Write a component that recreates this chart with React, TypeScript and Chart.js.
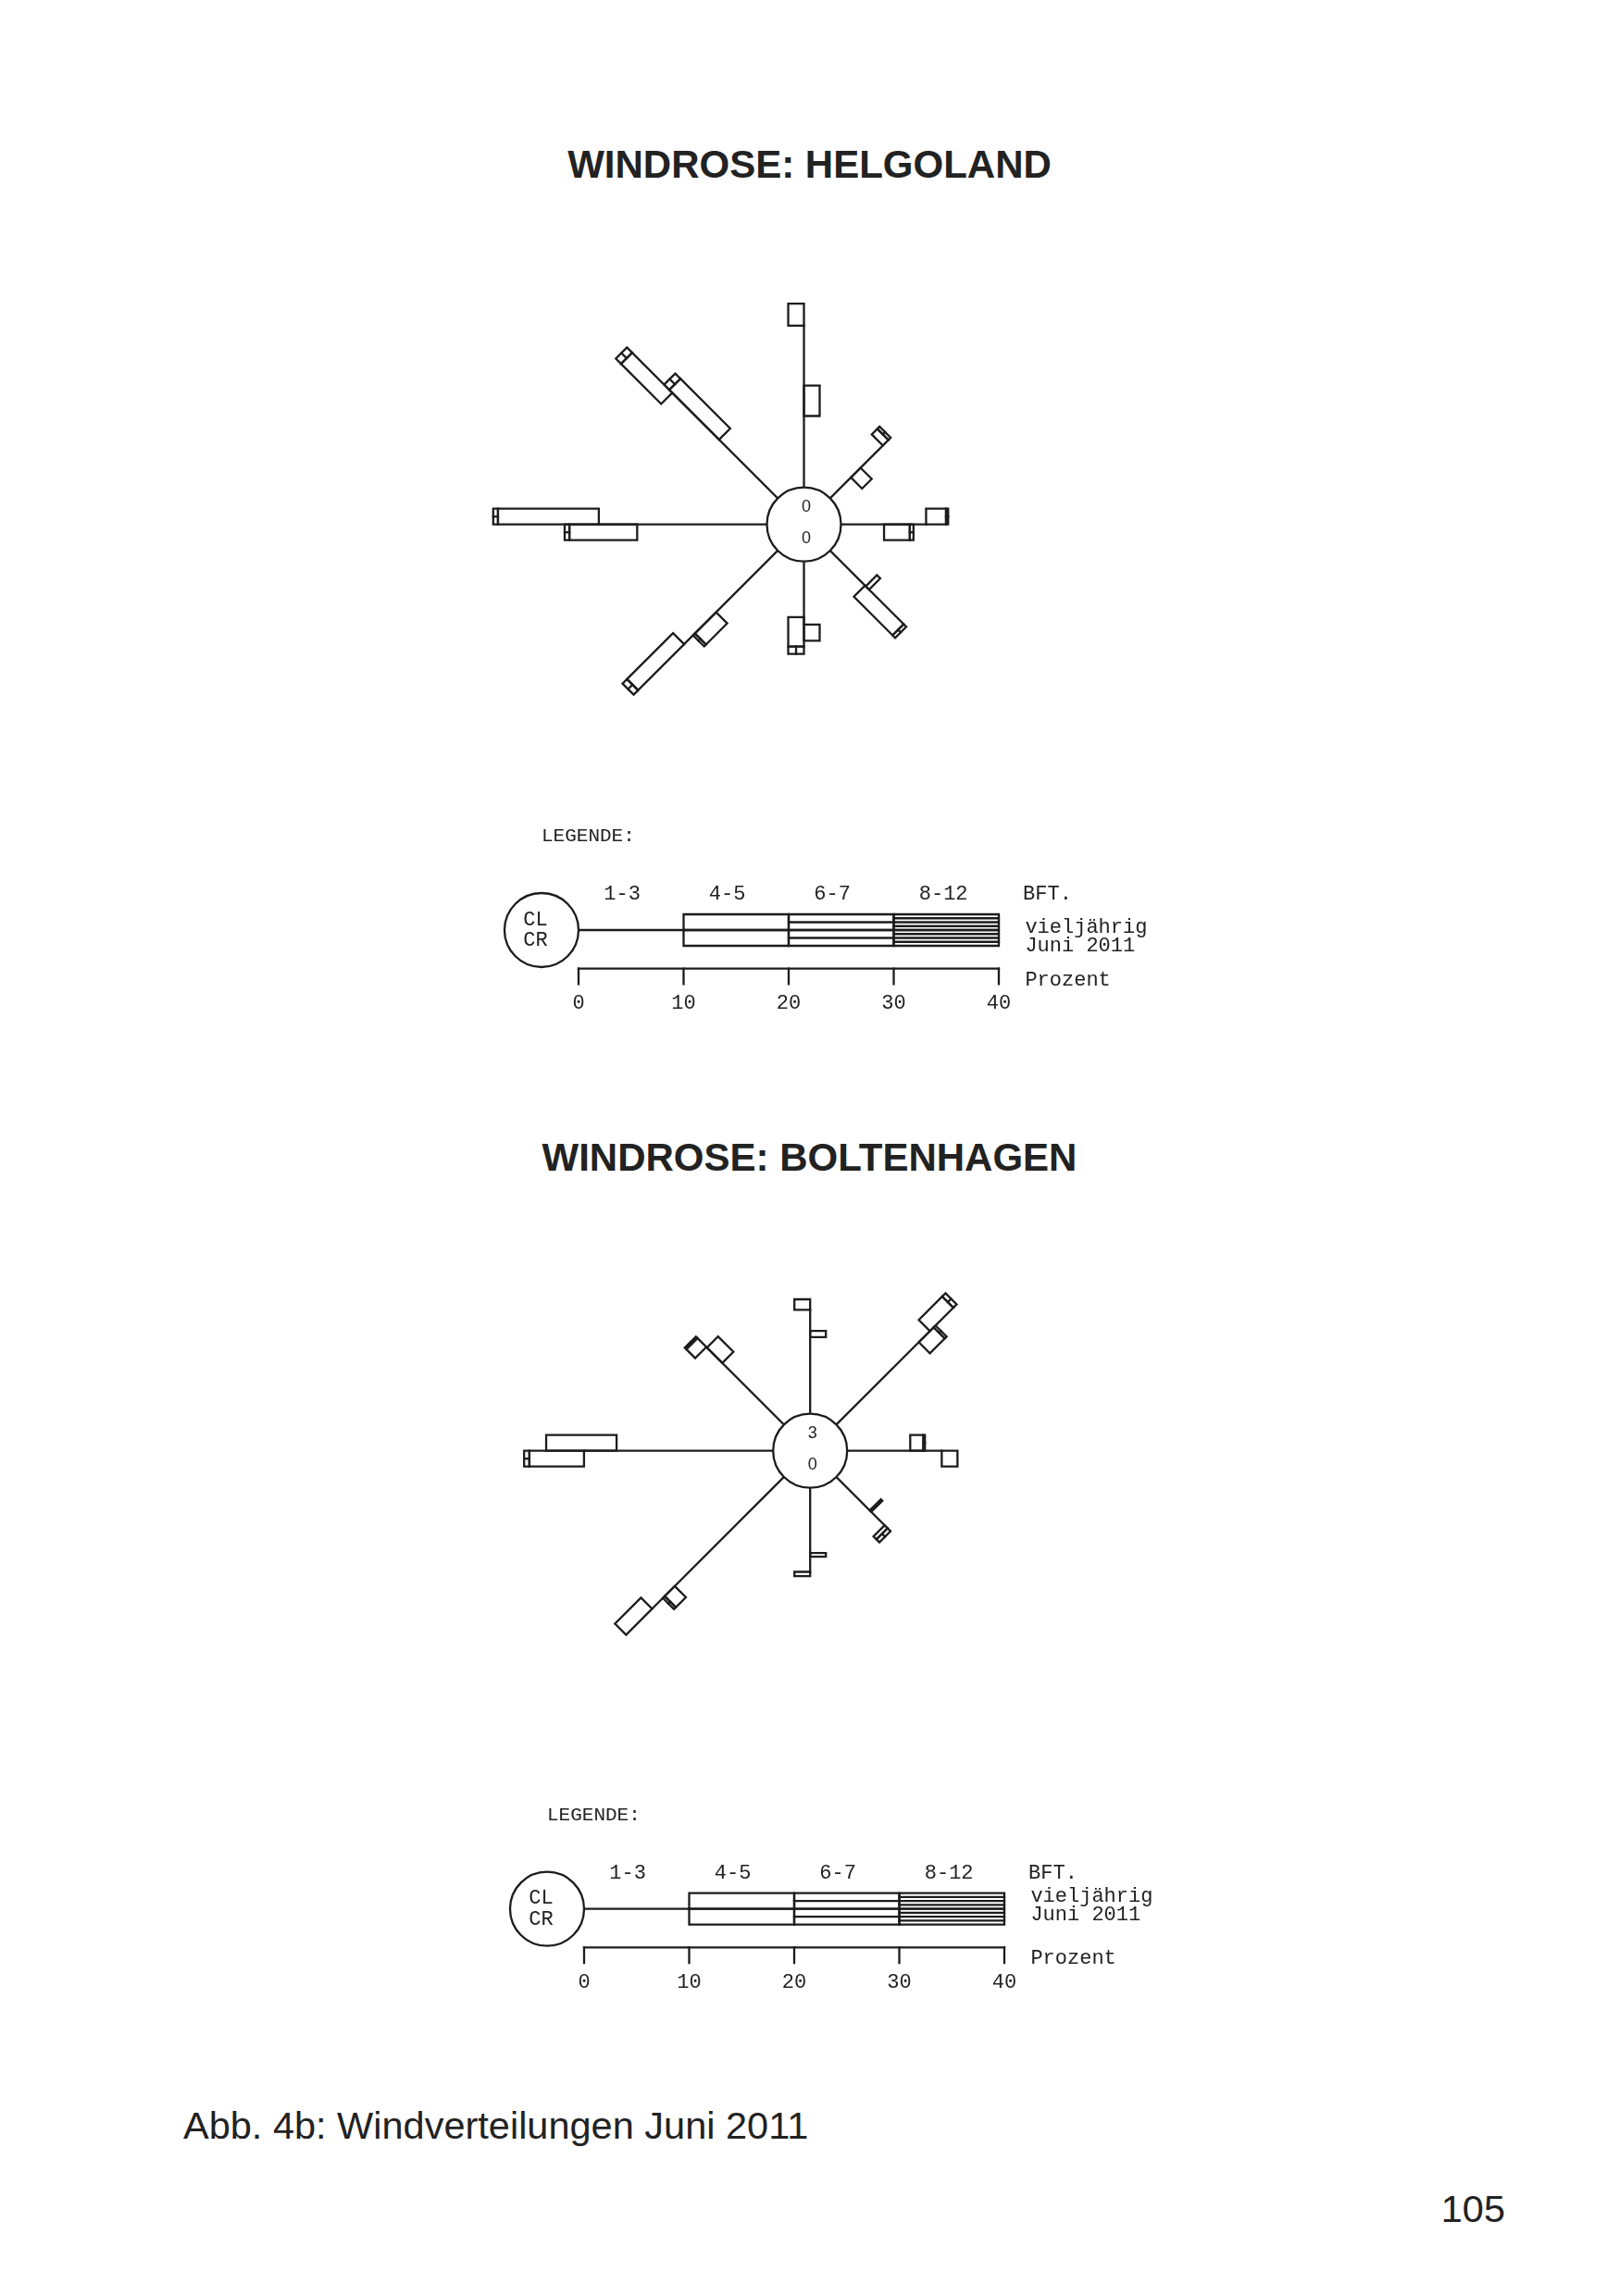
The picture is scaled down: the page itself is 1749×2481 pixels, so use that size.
import React, { useEffect, useRef } from 'react';
import { Chart, registerables } from 'chart.js';

Chart.register(...registerables);

// ---------------- data ----------------
const directions = ['N', 'NE', 'E', 'SE', 'S', 'SW', 'W', 'NW'];
const beaufortClasses = ['1-3', '4-5', '6-7', '8-12'];
const legendTicks = [0, 10, 20, 30, 40];
const legendTitle = 'LEGENDE:';
const legendUnit = 'BFT.';
const seriesNames = ['vieljährig', 'Juni 2011'];
const axisName = 'Prozent';
const calmNames = ['CL', 'CR'];

// Helgoland – long-term (vieljährig), percent per direction and Beaufort class
const helgolandLong13 = [15.4, 7.1, 8.1, 4.8, 6.0, 8.3, 12.35, 14.2];
const helgolandLong45 = [2.1, 0.75, 1.9, 0.45, 1.55, 2.85, 6.45, 5.4];
const helgolandLong67 = [0, 0.3, 0.2, 0, 0, 0.25, 0.45, 0.7];
const helgolandLong812 = [0, 0, 0, 0, 0, 0, 0, 0];
// Helgoland – June 2011
const helgolandJune13 = [6.8, 2.8, 4.1, 4.7, 5.3, 12.6, 16.0, 7.9];
const helgolandJune45 = [2.9, 1.3, 2.45, 5.2, 2.8, 6.2, 9.6, 6.7];
const helgolandJune67 = [0, 0, 0.35, 0.35, 0.7, 0.6, 0.45, 0.7];
const helgolandJune812 = [0, 0, 0, 0, 0, 0, 0, 0];
const helgolandCalm = [0, 0];

// Boltenhagen – long-term (vieljährig)
const boltenhagenLong13 = [9.9, 12.6, 6.0, 4.5, 6.2, 14.7, 18.0, 10.45];
const boltenhagenLong45 = [1.0, 3.15, 1.25, 0.2, 0.35, 1.35, 5.2, 1.2];
const boltenhagenLong67 = [0, 0.45, 0.15, 0, 0, 0.25, 0.5, 0.2];
const boltenhagenLong812 = [0, 0, 0, 0, 0, 0, 0, 0];
// Boltenhagen – June 2011
const boltenhagenJune13 = [7.3, 11.1, 9.0, 6.5, 8.0, 17.75, 14.9, 8.3];
const boltenhagenJune45 = [0.6, 2.0, 1.5, 0.4, 0.4, 3.5, 6.7, 2.07];
const boltenhagenJune67 = [0, 0.25, 0, 0.4, 0, 0, 0, 0];
const boltenhagenJune812 = [0, 0, 0, 0, 0, 0, 0, 0];
const boltenhagenCalm = [3, 0];

// ---------------- layout / style ----------------
const PAGE_W = 1749;
const PAGE_H = 2481;
const PX_PER_PERCENT = 11.35;
const CIRCLE_R_PX = 40;
const BAR_W_PX = 17;
const LINE_W = 2.3;
const INK = '#1c1c1c';
const TEXT = '#222';
const MONO = '"Liberation Mono", "DejaVu Sans Mono", monospace';
const SANS = '"Liberation Sans", Arial, sans-serif';

const K = PX_PER_PERCENT;
const R0 = CIRCLE_R_PX / K;
const BW = BAR_W_PX / K;

type Pt = { x: number; y: number };

const combine = (a: number[], b: number[], c: number[], d: number[]) =>
  directions.map((_, i) => [a[i], b[i], c[i], d[i]]);

const stations = [
  {
    title: 'WINDROSE: HELGOLAND',
    titleBaseline: 193,
    canvasTop: 230,
    canvasH: 900,
    roseX: 868.5,
    roseY: 566.7,
    legendX: 585,
    legendY: 1005,
    longDy: 2.5,
    juneDy: 22.5,
    long: combine(helgolandLong13, helgolandLong45, helgolandLong67, helgolandLong812),
    june: combine(helgolandJune13, helgolandJune45, helgolandJune67, helgolandJune812),
    calm: helgolandCalm,
  },
  {
    title: 'WINDROSE: BOLTENHAGEN',
    titleBaseline: 1266,
    canvasTop: 1290,
    canvasH: 880,
    roseX: 875.2,
    roseY: 1567.7,
    legendX: 591,
    legendY: 2062.7,
    longDy: -7.5,
    juneDy: 12.5,
    long: combine(boltenhagenLong13, boltenhagenLong45, boltenhagenLong67, boltenhagenLong812),
    june: combine(boltenhagenJune13, boltenhagenJune45, boltenhagenJune67, boltenhagenJune812),
    calm: boltenhagenCalm,
  },
];

// one spoke with the two bars (long-term on the counter-clockwise side, June on the other)
function branch(c: Pt, theta: number, long: number[], june: number[]): Pt[][] {
  const u = { x: Math.sin(theta), y: Math.cos(theta) };
  const n = { x: -u.y, y: u.x };
  const P = (t: number, w: number): Pt => ({
    x: c.x + (R0 + t) * u.x + w * n.x,
    y: c.y + (R0 + t) * u.y + w * n.y,
  });
  const out: Pt[][] = [];
  out.push([P(0, 0), P(Math.max(long[0], june[0]), 0)]);
  const parts: [number[], number][] = [
    [long, 1],
    [june, -1],
  ];
  parts.forEach(([segs, side]) => {
    let a = segs[0];
    for (let k = 1; k < segs.length; k++) {
      const L = segs[k];
      if (!(L > 0)) continue;
      const b = a + L;
      const w = side * BW;
      out.push([P(a, 0), P(b, 0), P(b, w), P(a, w), P(a, 0)]);
      const nh = k === 2 ? 1 : k === 3 ? 3 : 0;
      for (let h = 1; h <= nh; h++) {
        const f = h / (nh + 1);
        out.push([P(a, w * f), P(b, w * f)]);
      }
      a = b;
    }
  });
  return out;
}

type TextItem = {
  x: number;
  y: number;
  dx?: number;
  dy?: number;
  text: string;
  font: string;
  align: CanvasTextAlign;
};

function buildConfig(st: (typeof stations)[number]) {
  const lc: Pt = { x: (st.legendX - st.roseX) / K, y: -(st.legendY - st.roseY) / K };
  const polylines: Pt[][] = [];
  directions.forEach((_, i) => {
    polylines.push(...branch({ x: 0, y: 0 }, (i * Math.PI) / 4, st.long[i], st.june[i]));
  });
  // legend bar
  const legendSegs = legendTicks.slice(1).map((t, i) => t - legendTicks[i]);
  polylines.push(...branch(lc, Math.PI / 2, legendSegs, legendSegs));
  // legend axis
  const zeroX = lc.x + R0;
  const axisY = lc.y - 41.7 / K;
  const tickLen = 16.6 / K;
  polylines.push([
    { x: zeroX + legendTicks[0], y: axisY },
    { x: zeroX + legendTicks[legendTicks.length - 1], y: axisY },
  ]);
  legendTicks.forEach((t) => {
    polylines.push([
      { x: zeroX + t, y: axisY },
      { x: zeroX + t, y: axisY - tickLen },
    ]);
  });

  const datasets: any[] = polylines.map((pts) => ({
    data: pts,
    showLine: true,
    borderColor: INK,
    borderWidth: LINE_W,
    borderCapStyle: 'square',
    borderJoinStyle: 'miter',
    pointRadius: 0,
    pointHoverRadius: 0,
    fill: false,
    tension: 0,
    order: 1,
  }));
  datasets.unshift({
    data: [
      { x: 0, y: 0 },
      { x: lc.x, y: lc.y },
    ],
    showLine: false,
    pointRadius: CIRCLE_R_PX,
    pointHoverRadius: CIRCLE_R_PX,
    pointStyle: 'circle',
    pointBackgroundColor: '#ffffff',
    pointBorderColor: INK,
    pointBorderWidth: LINE_W,
    order: 0,
  });

  const mono = `22px ${MONO}`;
  const texts: TextItem[] = [
    { x: 0, y: 0, dx: 2.5, dy: -13.5, text: String(st.calm[0]), font: `18px ${SANS}`, align: 'center' },
    { x: 0, y: 0, dx: 2.5, dy: 20, text: String(st.calm[1]), font: `18px ${SANS}`, align: 'center' },
    { x: lc.x, y: lc.y, dx: 0, dy: -96, text: legendTitle, font: `21px ${MONO}`, align: 'left' },
    { x: lc.x, y: lc.y, dx: -6.5, dy: -5.5, text: calmNames[0], font: mono, align: 'center' },
    { x: lc.x, y: lc.y, dx: -6.5, dy: 17, text: calmNames[1], font: mono, align: 'center' },
    { x: zeroX + 42.3, y: lc.y, dy: -33, text: legendUnit, font: mono, align: 'left' },
    { x: zeroX + 42.5, y: lc.y, dy: st.longDy, text: seriesNames[0], font: mono, align: 'left' },
    { x: zeroX + 42.5, y: lc.y, dy: st.juneDy, text: seriesNames[1], font: mono, align: 'left' },
    { x: zeroX + 42.5, y: lc.y, dy: 59.5, text: axisName, font: mono, align: 'left' },
  ];
  beaufortClasses.forEach((cls, i) => {
    texts.push({ x: zeroX + legendTicks[i] + 2.4, y: lc.y, dy: -33, text: cls, font: mono, align: 'left' });
  });
  legendTicks.forEach((t) => {
    texts.push({ x: zeroX + t, y: lc.y, dy: 85, text: String(t), font: mono, align: 'center' });
  });

  const textPlugin = {
    id: 'roseTexts',
    afterDatasetsDraw(chart: any) {
      const ctx = chart.ctx as CanvasRenderingContext2D;
      const sx = chart.scales.x;
      const sy = chart.scales.y;
      ctx.save();
      ctx.fillStyle = TEXT;
      ctx.textBaseline = 'alphabetic';
      texts.forEach((t) => {
        ctx.font = t.font;
        ctx.textAlign = t.align;
        ctx.fillText(t.text, sx.getPixelForValue(t.x) + (t.dx || 0), sy.getPixelForValue(t.y) + (t.dy || 0));
      });
      ctx.restore();
    },
  };

  return {
    type: 'scatter' as const,
    data: { datasets },
    options: {
      animation: false as const,
      responsive: false,
      maintainAspectRatio: false,
      devicePixelRatio: 1,
      events: [] as any[],
      layout: { padding: 0, autoPadding: false },
      plugins: { legend: { display: false }, tooltip: { enabled: false }, title: { display: false } },
      scales: {
        x: {
          type: 'linear' as const,
          display: false,
          bounds: 'data' as const,
          min: -st.roseX / K,
          max: (PAGE_W - st.roseX) / K,
        },
        y: {
          type: 'linear' as const,
          display: false,
          bounds: 'data' as const,
          min: (st.roseY - st.canvasTop - st.canvasH) / K,
          max: (st.roseY - st.canvasTop) / K,
        },
      },
    },
    plugins: [textPlugin],
  };
}

function RoseChart({ st }: { st: (typeof stations)[number] }) {
  const ref = useRef<HTMLCanvasElement>(null);
  useEffect(() => {
    if (!ref.current) return;
    const chart = new Chart(ref.current, buildConfig(st) as any);
    return () => chart.destroy();
  }, [st]);
  return (
    <canvas
      ref={ref}
      width={PAGE_W}
      height={st.canvasH}
      style={{ position: 'absolute', left: 0, top: st.canvasTop, width: PAGE_W, height: st.canvasH, display: 'block' }}
    />
  );
}

const baselineTop = (baseline: number, size: number) => baseline - 0.8465 * size;

export default function App() {
  return (
    <div
      style={{
        position: 'absolute',
        left: 0,
        top: 0,
        width: PAGE_W,
        height: PAGE_H,
        overflow: 'hidden',
        background: '#fff',
        color: TEXT,
        fontFamily: SANS,
      }}
    >
      {stations.map((st) => (
        <div
          key={st.title}
          style={{
            position: 'absolute',
            left: 0,
            width: PAGE_W,
            top: baselineTop(st.titleBaseline, 42),
            textAlign: 'center',
            fontSize: 42,
            lineHeight: '42px',
            fontWeight: 'bold',
            whiteSpace: 'nowrap',
          }}
        >
          {st.title}
        </div>
      ))}
      {stations.map((st) => (
        <RoseChart key={st.title + '-chart'} st={st} />
      ))}
      <div
        style={{
          position: 'absolute',
          left: 198,
          top: baselineTop(2311, 41.5),
          fontSize: 41.5,
          lineHeight: '41.5px',
          whiteSpace: 'nowrap',
        }}
      >
        Abb. 4b: Windverteilungen Juni 2011
      </div>
      <div
        style={{
          position: 'absolute',
          left: 1426,
          width: 200,
          textAlign: 'right',
          top: baselineTop(2401, 41.5),
          fontSize: 41.5,
          lineHeight: '41.5px',
        }}
      >
        105
      </div>
    </div>
  );
}
